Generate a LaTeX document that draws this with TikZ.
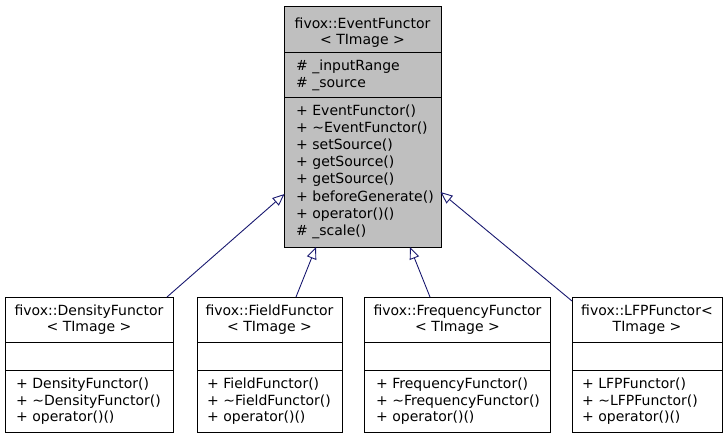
\documentclass[tikz,border=0pt]{standalone}
\usepackage{fontspec}
\setmainfont{DejaVu Sans}
\usetikzlibrary{arrows.meta}
\definecolor{edgeblue}{HTML}{191970}
\definecolor{boxgrey}{HTML}{BFBFBF}
\begin{document}
\begin{tikzpicture}[x=1pt,y=-1pt,
  cls/.style={draw=black, line width=1pt, rectangle, inner sep=0pt, outer sep=0pt, anchor=north west},
  sep/.style={draw=black, line width=1pt},
  txt/.style={inner sep=0pt, anchor=base west, font=\fontsize{14}{17}\selectfont},
  ttl/.style={inner sep=0pt, anchor=base, font=\fontsize{14}{17}\selectfont},
  inh/.style={draw=edgeblue, line width=0.9pt, -{Triangle[open, length=12pt, width=10pt]}}
]
\useasboundingbox (0,0) rectangle (728,440);

% base class
\node[cls, fill=boxgrey, minimum width=157pt, minimum height=241pt] (base) at (284,6) {};
\draw[sep] (base.west |- 0,52) -- (base.east |- 0,52);
\draw[sep] (base.west |- 0,97) -- (base.east |- 0,97);
\node[ttl] (bt1) at (362.5,28) {fivox::EventFunctor};
\node[ttl] (bt2) at (362.5,44.5) {< TImage >};
\node[txt] (ba1) at (296,70.5) {\# \_inputRange};
\node[txt] (ba2) at (296,87.5) {\# \_source};
\node[txt] (bm1) at (296,115) {+ EventFunctor()};
\node[txt] (bm2) at (296,132.2) {+ \textasciitilde EventFunctor()};
\node[txt] (bm3) at (296,149.4) {+ setSource()};
\node[txt] (bm4) at (296,166.6) {+ getSource()};
\node[txt] (bm5) at (296,183.8) {+ getSource()};
\node[txt] (bm6) at (296,201) {+ beforeGenerate()};
\node[txt] (bm7) at (296,218.2) {+ operator()()};
\node[txt] (bm8) at (296,235.4) {\# \_scale()};

% derived classes
\node[cls, fill=white, minimum width=168pt, minimum height=135pt] (d1) at (5,297) {};
\node[cls, fill=white, minimum width=145pt, minimum height=135pt] (d2) at (197,297) {};
\node[cls, fill=white, minimum width=186pt, minimum height=135pt] (d3) at (364.5,297) {};
\node[cls, fill=white, minimum width=150pt, minimum height=135pt] (d4) at (572,297) {};
\foreach \d in {d1,d2,d3,d4}{
  \draw[sep] (\d.west |- 0,342) -- (\d.east |- 0,342);
  \draw[sep] (\d.west |- 0,370) -- (\d.east |- 0,370);
}

\node[ttl] (d1t1) at (89,315) {fivox::DensityFunctor};
\node[ttl] (d1t2) at (89,331.7) {< TImage >};
\node[txt] (d1m1) at (16,388.3) {+ DensityFunctor()};
\node[txt] (d1m2) at (16,405) {+ \textasciitilde DensityFunctor()};
\node[txt] (d1m3) at (16,421.7) {+ operator()()};

\node[ttl] (d2t1) at (269.5,315) {fivox::FieldFunctor};
\node[ttl] (d2t2) at (269.5,331.7) {< TImage >};
\node[txt] (d2m1) at (207,388.3) {+ FieldFunctor()};
\node[txt] (d2m2) at (207,405) {+ \textasciitilde FieldFunctor()};
\node[txt] (d2m3) at (207,421.7) {+ operator()()};

\node[ttl] (d3t1) at (457.5,315) {fivox::FrequencyFunctor};
\node[ttl] (d3t2) at (457.5,331.7) {< TImage >};
\node[txt] (d3m1) at (376,388.3) {+ FrequencyFunctor()};
\node[txt] (d3m2) at (376,405) {+ \textasciitilde FrequencyFunctor()};
\node[txt] (d3m3) at (376,421.7) {+ operator()()};

\node[ttl] (d4t1) at (647,315) {fivox::LFPFunctor<};
\node[ttl] (d4t2) at (647,331.7) {TImage >};
\node[txt] (d4m1) at (582,388.3) {+ LFPFunctor()};
\node[txt] (d4m2) at (582,405) {+ \textasciitilde LFPFunctor()};
\node[txt] (d4m3) at (582,421.7) {+ operator()()};

% inheritance edges
\coordinate (e1s) at (167,297);
\coordinate (e1t) at (284.5,194);
\coordinate (e2s) at (296,297);
\coordinate (e2t) at (316,247);
\coordinate (e3s) at (430,297);
\coordinate (e3t) at (410,247);
\coordinate (e4s) at (572,301);
\coordinate (e4t) at (440.5,192);
\draw[inh] (e1s) -- (e1t);
\draw[inh] (e2s) -- (e2t);
\draw[inh] (e3s) -- (e3t);
\draw[inh] (e4s) -- (e4t);
\end{tikzpicture}
\end{document}
